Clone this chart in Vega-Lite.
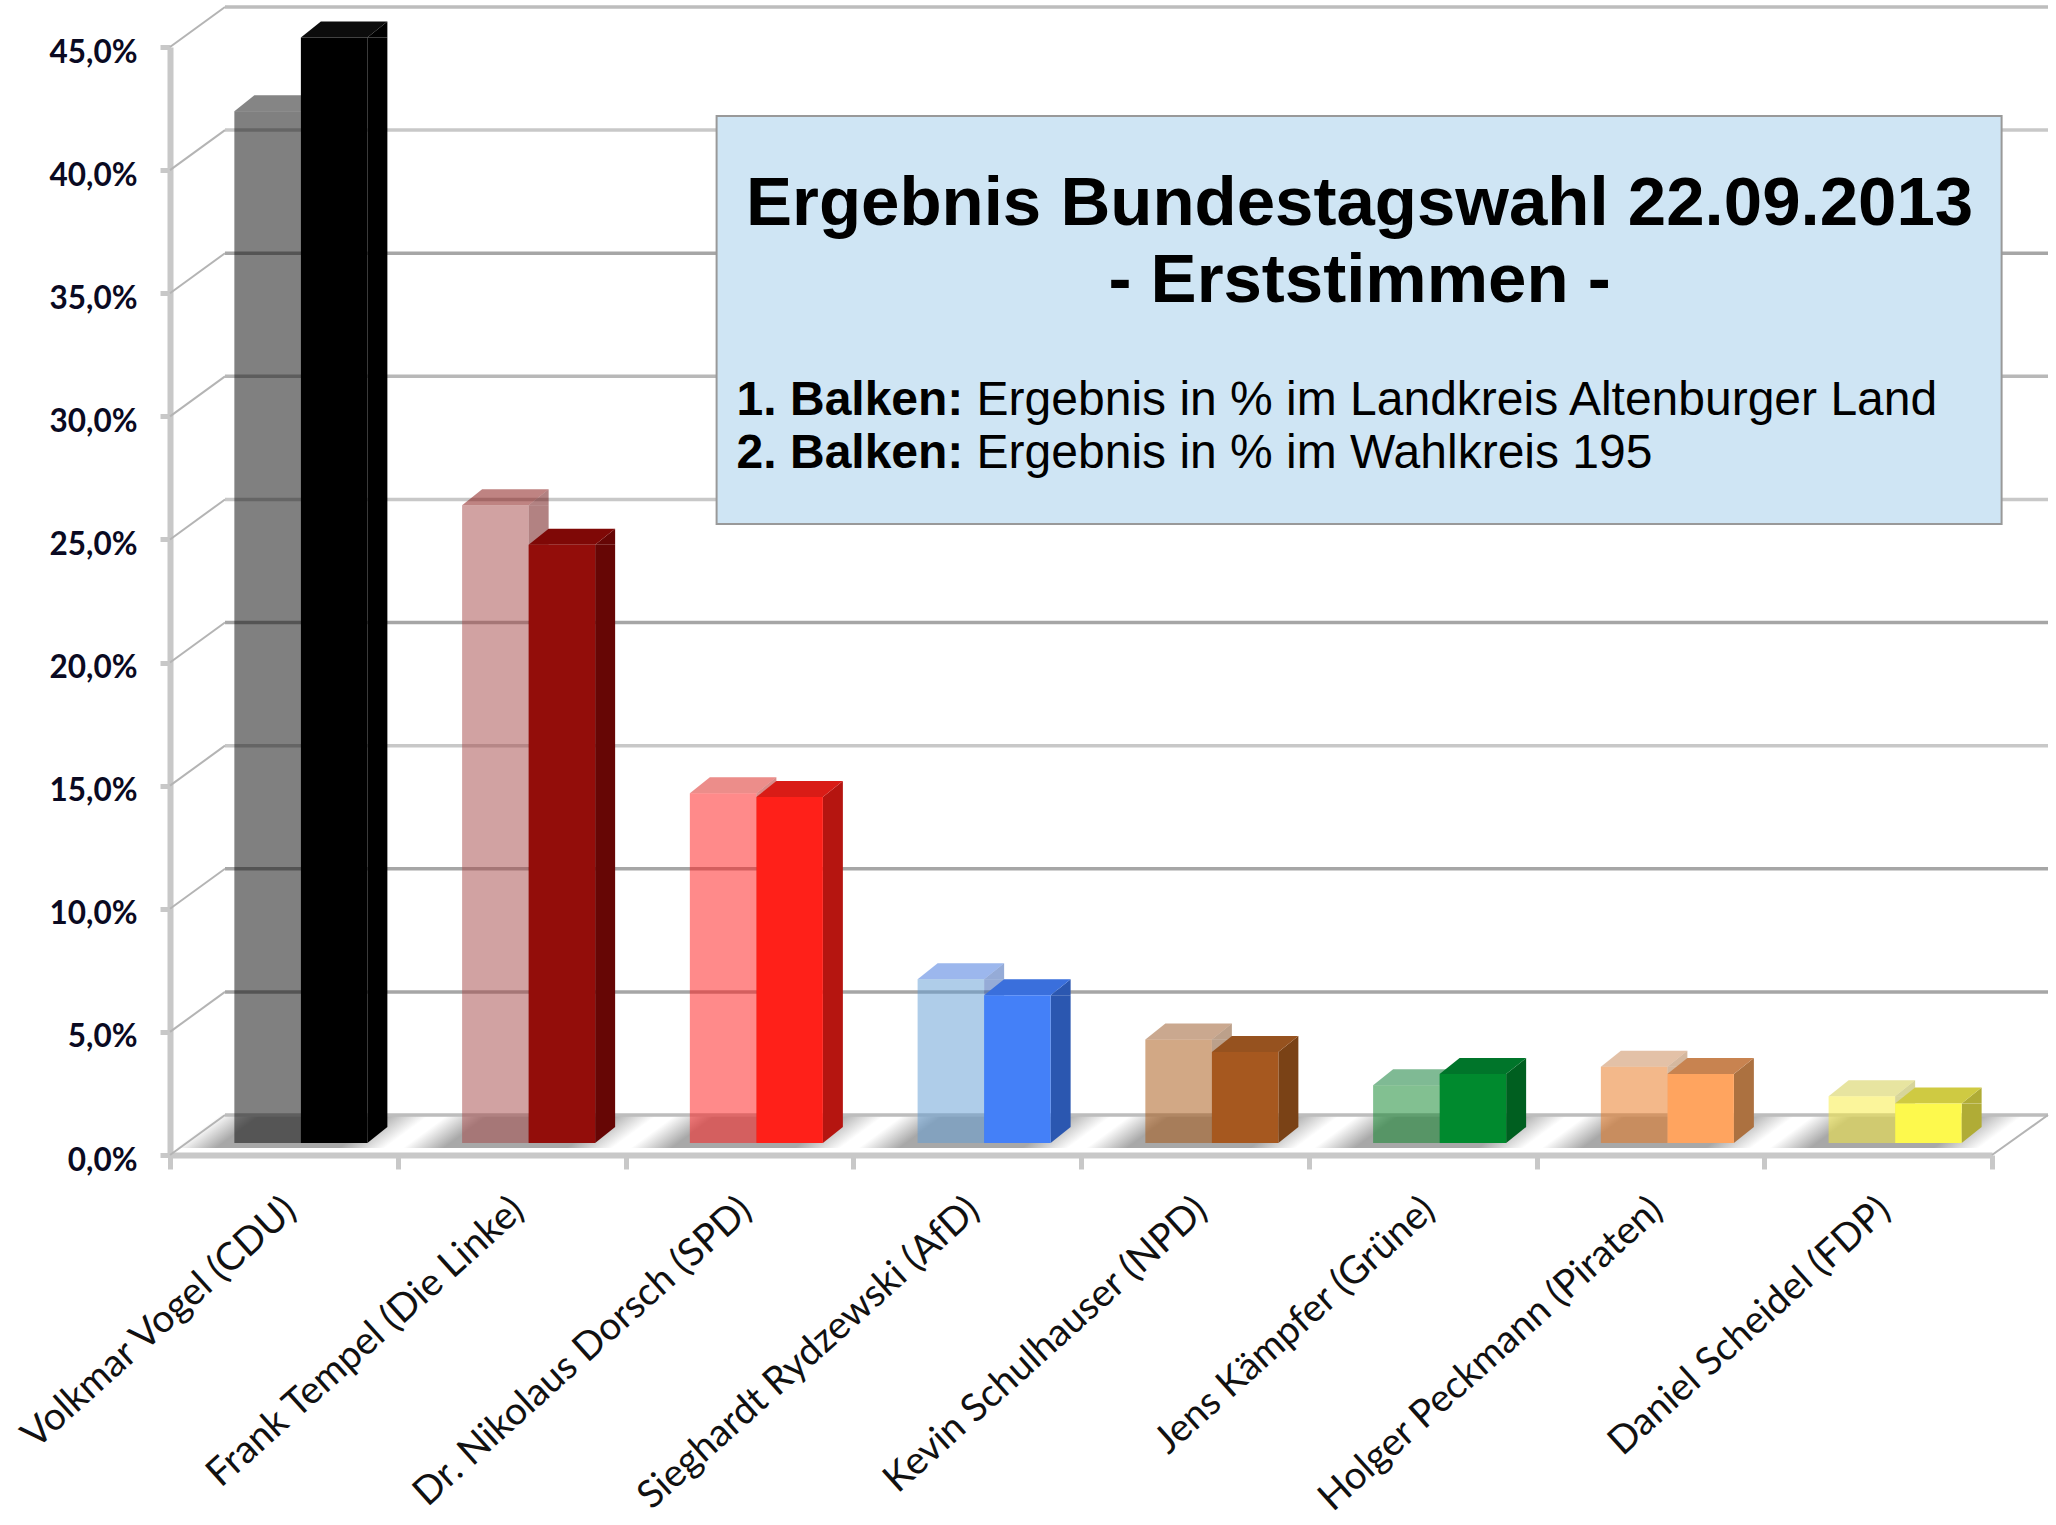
{"$schema":"https://vega.github.io/schema/vega-lite/v6.json","width":1822,"height":1108,"autosize":{"type":"none"},"padding":{"left":170,"top":47,"right":64,"bottom":370},"background":"white","config":{"view":{"stroke":null},"axis":{"grid":false}},
"datasets":{"bars":[
{"kandidat":"Volkmar Vogel (CDU)","ebene":"Landkreis","wert":41.9},{"kandidat":"Frank Tempel (Die Linke)","ebene":"Landkreis","wert":25.9},{"kandidat":"Dr. Nikolaus Dorsch (SPD)","ebene":"Landkreis","wert":14.2},{"kandidat":"Sieghardt Rydzewski (AfD)","ebene":"Landkreis","wert":6.65},{"kandidat":"Kevin Schulhauser (NPD)","ebene":"Landkreis","wert":4.2},{"kandidat":"Jens Kämpfer (Grüne)","ebene":"Landkreis","wert":2.35},{"kandidat":"Holger Peckmann (Piraten)","ebene":"Landkreis","wert":3.1},{"kandidat":"Daniel Scheidel (FDP)","ebene":"Landkreis","wert":1.9},
{"kandidat":"Volkmar Vogel (CDU)","ebene":"Wahlkreis","wert":44.9},{"kandidat":"Frank Tempel (Die Linke)","ebene":"Wahlkreis","wert":24.3},{"kandidat":"Dr. Nikolaus Dorsch (SPD)","ebene":"Wahlkreis","wert":14.05},{"kandidat":"Sieghardt Rydzewski (AfD)","ebene":"Wahlkreis","wert":6.0},{"kandidat":"Kevin Schulhauser (NPD)","ebene":"Wahlkreis","wert":3.7},{"kandidat":"Jens Kämpfer (Grüne)","ebene":"Wahlkreis","wert":2.8},{"kandidat":"Holger Peckmann (Piraten)","ebene":"Wahlkreis","wert":2.8},{"kandidat":"Daniel Scheidel (FDP)","ebene":"Wahlkreis","wert":1.6}],
"ticks":[{"wert":0},{"wert":5},{"wert":10},{"wert":15},{"wert":20},{"wert":25},{"wert":30},{"wert":35},{"wert":40},{"wert":45}],
"kand":[{"kandidat":"Volkmar Vogel (CDU)"},{"kandidat":"Frank Tempel (Die Linke)"},{"kandidat":"Dr. Nikolaus Dorsch (SPD)"},{"kandidat":"Sieghardt Rydzewski (AfD)"},{"kandidat":"Kevin Schulhauser (NPD)"},{"kandidat":"Jens Kämpfer (Grüne)"},{"kandidat":"Holger Peckmann (Piraten)"},{"kandidat":"Daniel Scheidel (FDP)"}]},
"resolve":{"scale":{"fill":"independent","stroke":"independent"}},
"layer":[
{"data":{"name":"kand"},"mark":{"type":"point","shape":"M5,-7 L233,-7 L278,-40 L50,-40 Z","size":4,"filled":true,"opacity":1,"strokeWidth":0,"fill":{"gradient":"linear","x1":0.0825,"y1":0.5,"x2":0.895,"y2":0.634,"stops":[{"offset":0,"color":"#ffffff"},{"offset":0.18,"color":"#a8a8a8"},{"offset":0.72,"color":"#a8a8a8"},{"offset":0.92,"color":"#ffffff"},{"offset":1,"color":"#ffffff"}]}},
"encoding":{"x":{"field":"kandidat","type":"nominal","bandPosition":0,"sort":null,"scale":{"domain":["Volkmar Vogel (CDU)","Frank Tempel (Die Linke)","Dr. Nikolaus Dorsch (SPD)","Sieghardt Rydzewski (AfD)","Kevin Schulhauser (NPD)","Jens Kämpfer (Grüne)","Holger Peckmann (Piraten)","Daniel Scheidel (FDP)"],"paddingInner":0,"paddingOuter":0},"axis":{"title":null,"tickBand":"extent","domainColor":"#c8c8c8","domainWidth":6,"tickColor":"#c8c8c8","tickWidth":5,"tickSize":14,"labelAngle":-42,"labelAlign":"right","labelBaseline":"middle","labelFont":"Lato","labelFontSize":38.5,"labelColor":"#111111","labelPadding":35,"labelOffset":6,"labelLimit":0,"labelOverlap":false}},
"y":{"datum":0,"type":"quantitative","scale":{"domain":[0,45],"nice":false},"axis":{"title":null,"values":[0,5,10,15,20,25,30,35,40,45],"domainColor":"#c8c8c8","domainWidth":6,"tickColor":"#c8c8c8","tickWidth":5,"tickSize":10,"labelFont":"Lato","labelFontWeight":"bold","labelFontSize":31.5,"labelColor":"#0a0a22","labelPadding":23,"labelOffset":6,"labelExpr":"replace(format(datum.value,'.1f'),'.',',')+'%'"}}}},
{"data":{"name":"ticks"},"mark":{"type":"point","shape":"M55,-40 L1878,-40","size":4,"filled":false,"opacity":1,"strokeWidth":3.5},
"encoding":{"x":{"datum":"Volkmar Vogel (CDU)","type":"nominal","bandPosition":0},"y":{"field":"wert","type":"quantitative"},"stroke":{"field":"wert","type":"nominal","legend":null,"scale":{"domain":[0,5,10,15,20,25,30,35,40,45],"range":["#bdbdbd","#a6a6a6","#a6a6a6","#c8c8c8","#a6a6a6","#c8c8c8","#b8b8b8","#a6a6a6","#c8c8c8","#bdbdbd"]}}}},
{"data":{"name":"ticks"},"mark":{"type":"point","shape":"M0,0 L55,-40","size":4,"filled":false,"opacity":1,"strokeWidth":2,"color":"#b4b4b4"},
"encoding":{"x":{"datum":"Volkmar Vogel (CDU)","type":"nominal","bandPosition":0},"y":{"field":"wert","type":"quantitative"}}},
{"data":{"values":[{"wert":0}]},"mark":{"type":"point","shape":"M0,0 L56,-40","size":4,"filled":false,"opacity":1,"strokeWidth":2,"color":"#b4b4b4"},
"encoding":{"x":{"datum":"Daniel Scheidel (FDP)","type":"nominal","bandPosition":1},"y":{"field":"wert","type":"quantitative"}}},
{"data":{"name":"bars"},
"encoding":{"x":{"field":"kandidat","type":"nominal","sort":null},"y":{"field":"wert","type":"quantitative"},"opacity":{"field":"ebene","type":"nominal","legend":null,"scale":{"domain":["Landkreis","Wahlkreis"],"range":[0.5,1]}}},
"resolve":{"scale":{"fill":"independent","stroke":"independent"}},
"layer":[
{"transform":[{"filter":"datum.ebene === 'Landkreis'"}],"mark":{"type":"rule","strokeWidth":20,"strokeCap":"butt","xOffset":27,"yOffset":-12,"y2Offset":-28},"encoding":{"y2":{"datum":0},"stroke":{"field":"kandidat","type":"nominal","legend":null,"scale":{"domain":["Volkmar Vogel (CDU)","Frank Tempel (Die Linke)","Dr. Nikolaus Dorsch (SPD)","Sieghardt Rydzewski (AfD)","Kevin Schulhauser (NPD)","Jens Kämpfer (Grüne)","Holger Peckmann (Piraten)","Daniel Scheidel (FDP)"],"range":["#000000","#660605","#b51510","#2b57b0","#7a4216","#005f20","#ac7140","#b0ac36"]}}}},
{"transform":[{"filter":"datum.ebene === 'Wahlkreis'"}],"mark":{"type":"rule","strokeWidth":20,"strokeCap":"butt","xOffset":93.5,"yOffset":-12,"y2Offset":-28},"encoding":{"y2":{"datum":0},"stroke":{"field":"kandidat","type":"nominal","legend":null,"scale":{"domain":["Volkmar Vogel (CDU)","Frank Tempel (Die Linke)","Dr. Nikolaus Dorsch (SPD)","Sieghardt Rydzewski (AfD)","Kevin Schulhauser (NPD)","Jens Kämpfer (Grüne)","Holger Peckmann (Piraten)","Daniel Scheidel (FDP)"],"range":["#000000","#660605","#b51510","#2b57b0","#7a4216","#005f20","#ac7140","#b0ac36"]}}}},
{"encoding":{"xOffset":{"field":"ebene","type":"nominal","scale":{"domain":["Landkreis","Wahlkreis"],"range":[17,244.75],"paddingInner":0,"paddingOuter":0.712}}},
"resolve":{"scale":{"fill":"independent"}},
"layer":[
{"layer":[
{"mark":{"type":"point","shape":"M33.25,0 L53.25,-16 L53.25,0 Z","size":4,"filled":true,"strokeWidth":0,"yOffset":-12}},
{"mark":{"type":"point","shape":"M33.25,-16 L53.25,-16 L33.25,0 Z","size":4,"filled":true,"strokeWidth":0,"yOffset":-12},"encoding":{"y":{"datum":0}}}
],
"encoding":{"fill":{"field":"kandidat","type":"nominal","legend":null,"scale":{"domain":["Volkmar Vogel (CDU)","Frank Tempel (Die Linke)","Dr. Nikolaus Dorsch (SPD)","Sieghardt Rydzewski (AfD)","Kevin Schulhauser (NPD)","Jens Kämpfer (Grüne)","Holger Peckmann (Piraten)","Daniel Scheidel (FDP)"],"range":["#000000","#660605","#b51510","#2b57b0","#7a4216","#005f20","#ac7140","#b0ac36"]}}}},
{"mark":{"type":"point","shape":"M-33.25,0 L33.25,0 L53.25,-16 L-13.25,-16 Z","size":4,"filled":true,"strokeWidth":0,"yOffset":-12},
"encoding":{"fill":{"field":"kandidat","type":"nominal","legend":null,"scale":{"domain":["Volkmar Vogel (CDU)","Frank Tempel (Die Linke)","Dr. Nikolaus Dorsch (SPD)","Sieghardt Rydzewski (AfD)","Kevin Schulhauser (NPD)","Jens Kämpfer (Grüne)","Holger Peckmann (Piraten)","Daniel Scheidel (FDP)"],"range":["#0c0c0c","#7f0806","#d91c16","#3a6fdc","#96521f","#00752a","#c88350","#cfca42"]}}}},
{"transform":[{"filter":"datum.ebene === 'Landkreis'"}],"mark":{"type":"bar","yOffset":-12,"y2Offset":-12},
"encoding":{"y2":{"datum":0},"fill":{"field":"kandidat","type":"nominal","legend":null,"scale":{"domain":["Volkmar Vogel (CDU)","Frank Tempel (Die Linke)","Dr. Nikolaus Dorsch (SPD)","Sieghardt Rydzewski (AfD)","Kevin Schulhauser (NPD)","Jens Kämpfer (Grüne)","Holger Peckmann (Piraten)","Daniel Scheidel (FDP)"],"range":["#010101","#a34545","#ff1515","#5f9bd3","#a5510b","#058123","#e77115","#f7eb37"]}}}},
{"transform":[{"filter":"datum.ebene === 'Wahlkreis'"}],"mark":{"type":"bar","yOffset":-12,"y2Offset":-12},
"encoding":{"y2":{"datum":0},"fill":{"field":"kandidat","type":"nominal","legend":null,"scale":{"domain":["Volkmar Vogel (CDU)","Frank Tempel (Die Linke)","Dr. Nikolaus Dorsch (SPD)","Sieghardt Rydzewski (AfD)","Kevin Schulhauser (NPD)","Jens Kämpfer (Grüne)","Holger Peckmann (Piraten)","Daniel Scheidel (FDP)"],"range":["#000000","#930d0a","#ff2019","#4480f8","#a6581f","#008a2e","#ffa45f","#fdf94d"]}}}}
]}
]},
{"data":{"values":[{"box":"Ergebnis"}]},
"encoding":{"x":{"datum":"Dr. Nikolaus Dorsch (SPD)","type":"nominal","bandPosition":0.4},"y":{"datum":42.2,"type":"quantitative"}},
"layer":[
{"mark":{"type":"point","shape":"M0,0 H1285 V408 H0 Z","size":4,"filled":true,"opacity":1,"fill":"#cfe5f4","stroke":"#999999","strokeWidth":2}},
{"mark":{"type":"text","font":"Liberation Sans","fontWeight":"bold","fontSize":69,"align":"center","baseline":"alphabetic","dx":643,"dy":109,"color":"#000000","text":"Ergebnis Bundestagswahl 22.09.2013"}},
{"mark":{"type":"text","font":"Liberation Sans","fontWeight":"bold","fontSize":69,"align":"center","baseline":"alphabetic","dx":643,"dy":186,"color":"#000000","text":"- Erststimmen -"}},
{"mark":{"type":"text","font":"Liberation Sans","fontWeight":"bold","fontSize":48,"align":"left","baseline":"alphabetic","dx":20,"dy":299,"color":"#000000","text":"1. Balken:"}},
{"mark":{"type":"text","font":"Liberation Sans","fontWeight":"bold","fontSize":48,"align":"left","baseline":"alphabetic","dx":20,"dy":352,"color":"#000000","text":"2. Balken:"}},
{"mark":{"type":"text","font":"Liberation Sans","fontSize":48,"align":"left","baseline":"alphabetic","dx":260,"dy":299,"color":"#000000","text":"Ergebnis in % im Landkreis Altenburger Land"}},
{"mark":{"type":"text","font":"Liberation Sans","fontSize":48,"align":"left","baseline":"alphabetic","dx":260,"dy":352,"color":"#000000","text":"Ergebnis in % im Wahlkreis 195"}}
]}
]}
